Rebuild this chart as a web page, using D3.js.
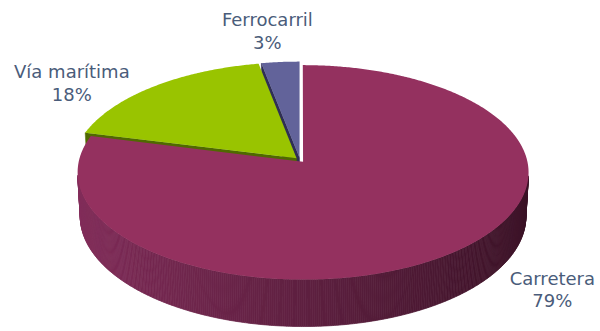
<!DOCTYPE html>
<html>
<head>
<meta charset="utf-8">
<script src="https://cdn.jsdelivr.net/npm/d3@7"></script>
<style>
  html, body { margin: 0; padding: 0; background: #ffffff; }
  svg { display: block; }
</style>
</head>
<body>
<svg id="chart" width="600" height="331"></svg>
<script>
// Modal split of freight transport (share of total, %)
const categories = ["Carretera", "Vía marítima", "Ferrocarril"];
const shares = [79, 18, 3];
const percentLabels = ["79%", "18%", "3%"];

// Colours: top face, and side wall from shadowed (right) to lit (left)
const topColors = ["#94315f", "#99c400", "#62639a"];
const sideDark = ["#3a1226", "#4a6300", "#2b2b4d"];
const sideLight = ["#822d5a", "#6a8c00", "#45457a"];

// Label text block placement relative to each slice's outer rim midpoint
const labelNudge = [[100, 32], [-82, -8], [-13, -36]];

const svg = d3.select("#chart");

// 3D view of a unit-radius disc (x right, y up, z away from viewer)
const view = {
  cx: 300, cy: 160,     // screen position of the pie centre
  scale: 224,           // px per unit radius at the centre depth
  tilt: 28.2 * Math.PI / 180,
  persp: 0.0976,        // perspective strength
  thickness: 0.224,     // disc height in radius units
  explode: 0.0223       // slice offset in radius units
};
const sinA = Math.sin(view.tilt), cosA = Math.cos(view.tilt);
const invD = view.persp / cosA;
const camera = [0, sinA / invD, -cosA / invD];

function project(x, y, z) {
  const w = 1 + (z * cosA - y * sinA) * invD;
  return [view.cx + view.scale * x / w, view.cy - view.scale * (y * cosA + z * sinA) / w];
}

function facing(n, p) {
  const v = [camera[0] - p[0], camera[1] - p[1], camera[2] - p[2]];
  const len = Math.hypot(v[0], v[1], v[2]);
  return (n[0] * v[0] + n[1] * v[1] + n[2] * v[2]) / len;
}

const polygon = d3.line().curve(d3.curveLinearClosed);

const arcs = d3.pie().sort(null).value(d => d)(shares).map((a, i) => {
  const mid = (a.startAngle + a.endAngle) / 2;
  return {
    ...a, i, mid,
    ox: view.explode * Math.sin(mid),
    oz: view.explode * Math.cos(mid)
  };
});

// paint slices from the back of the pie to the front
const order = arcs.slice().sort((a, b) => Math.cos(b.mid) - Math.cos(a.mid));
const step = 0.5 * Math.PI / 180;
const hgt = view.thickness;

order.forEach(a => {
  const g = svg.append("g").attr("class", "slice slice-" + a.i);
  const rim = (t, y) => project(a.ox + Math.sin(t), y, a.oz + Math.cos(t));
  const centre = y => project(a.ox, y, a.oz);
  const shade = d3.interpolateRgb(sideDark[a.i], sideLight[a.i]);

  // radial cut faces
  [[a.startAngle, [-Math.cos(a.startAngle), 0, Math.sin(a.startAngle)]],
   [a.endAngle, [Math.cos(a.endAngle), 0, -Math.sin(a.endAngle)]]].forEach(([t, n]) => {
    const p = [a.ox + 0.5 * Math.sin(t), -hgt / 2, a.oz + 0.5 * Math.cos(t)];
    if (facing(n, p) > 0.01) {
      g.append("path")
        .attr("d", polygon([centre(0), rim(t, 0), rim(t, -hgt), centre(-hgt)]))
        .attr("fill", shade(0.15))
        .attr("stroke", shade(0.15))
        .attr("stroke-width", 0.5);
    }
  });

  // outer wall, built from thin strips shaded by orientation
  const n = Math.max(1, Math.ceil((a.endAngle - a.startAngle) / step));
  const dt = (a.endAngle - a.startAngle) / n;
  for (let k = 0; k < n; k++) {
    const t0 = a.startAngle + k * dt, t1 = t0 + dt, tm = (t0 + t1) / 2;
    const nrm = [Math.sin(tm), 0, Math.cos(tm)];
    const p = [a.ox + Math.sin(tm), -hgt / 2, a.oz + Math.cos(tm)];
    if (facing(nrm, p) <= 0) continue;
    const c = shade((1 - Math.sin(tm)) / 2);
    g.append("path")
      .attr("d", polygon([rim(t0, 0), rim(t1, 0), rim(t1, -hgt), rim(t0, -hgt)]))
      .attr("fill", c)
      .attr("stroke", c)
      .attr("stroke-width", 0.7);
  }

  // top face
  const pts = [centre(0)];
  for (let k = 0; k <= n; k++) pts.push(rim(a.startAngle + k * dt, 0));
  g.append("path")
    .attr("d", polygon(pts))
    .attr("fill", topColors[a.i]);
});

// data labels: category name over percentage
const labels = svg.append("g")
  .attr("font-family", "'DejaVu Sans', sans-serif")
  .attr("font-size", 18)
  .attr("fill", "#4a5c7a")
  .attr("text-anchor", "middle");

arcs.forEach(a => {
  const [x, y] = project(a.ox + Math.sin(a.mid), 0, a.oz + Math.cos(a.mid));
  const lx = x + labelNudge[a.i][0], ly = y + labelNudge[a.i][1];
  const t = labels.append("text").attr("x", lx).attr("y", ly);
  t.append("tspan").attr("x", lx).attr("y", ly).text(categories[a.i]);
  t.append("tspan").attr("x", lx).attr("y", ly + 22.5).text(percentLabels[a.i]);
});
</script>
</body>
</html>
